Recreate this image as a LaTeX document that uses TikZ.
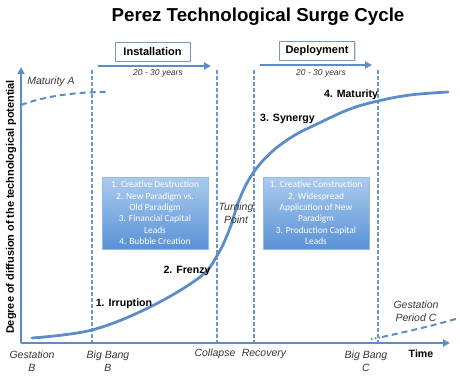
\documentclass[tikz,border=0pt]{standalone}
\usepackage{fontspec}
\setmainfont{Liberation Sans}
\newfontfamily\boxfont{Carlito}
\usetikzlibrary{arrows.meta,shadows}
\definecolor{lblue}{RGB}{92,141,200}
\definecolor{vblue}{RGB}{105,152,208}
\definecolor{boxtop}{RGB}{172,203,238}
\definecolor{boxbot}{RGB}{88,146,214}
\definecolor{boxborder}{RGB}{150,185,228}
\definecolor{phaseborder}{RGB}{125,150,185}
\definecolor{labgray}{RGB}{55,55,55}
\tikzset{
  axisline/.style={draw=lblue, line width=2pt, -{Triangle[length=7pt,width=7pt]}},
  phasearrow/.style={draw=lblue, line width=2pt, -{Triangle[length=7pt,width=7pt]}},
  vdash/.style={draw=vblue, line width=1.4pt, dash pattern=on 4pt off 2pt},
  mainline/.style={draw=lblue, line width=2.8pt, line cap=round},
  softdash/.style={draw=lblue, line width=2pt, dash pattern=on 6pt off 4pt},
  phasebox/.style={draw=phaseborder, line width=0.8pt, fill=white, inner sep=0pt,
    minimum width=75pt, minimum height=19pt,
    font=\fontsize{11}{13}\selectfont\bfseries,
    drop shadow={opacity=0.25, shadow xshift=1pt, shadow yshift=-1pt}},
  bluebox/.style={draw=boxborder, line width=0.6pt, top color=boxtop, bottom color=boxbot,
    text=white, align=center, inner sep=0pt, minimum width=106pt, minimum height=72pt,
    font=\boxfont\fontsize{9.4}{11.4}\selectfont,
    drop shadow={opacity=0.3, shadow xshift=1.2pt, shadow yshift=-1.2pt}},
  stage/.style={font=\fontsize{10.6}{12}\selectfont\bfseries, inner sep=0pt},
  event/.style={font=\fontsize{10.5}{13.5}\selectfont\itshape, text=labgray, align=center, inner sep=0pt},
  years/.style={font=\fontsize{8.5}{10}\selectfont\itshape, text=labgray, inner sep=0pt}
}
\begin{document}
\begin{tikzpicture}[x=1pt,y=-1pt]
\useasboundingbox (0,0) rectangle (460,377);
% title
\node[font=\fontsize{18.7}{22}\selectfont\bfseries] (title) at (258,17) {Perez Technological Surge Cycle};
% phase boxes and arrows
\node[phasebox] (inst) at (152.5,51.5) {Installation};
\node[phasebox] (depl) at (317,51) {Deployment};
\coordinate (ia1) at (98,66); \coordinate (ia2) at (211,66);
\coordinate (da1) at (260,65); \coordinate (da2) at (372,65);
\draw[phasearrow] (ia1) -- (ia2);
\draw[phasearrow] (da1) -- (da2);
\node[years] (iy) at (158,73) {20 - 30 years};
\node[years] (dy) at (321,73) {20 - 30 years};
% vertical dashed lines
\foreach \n/\x in {a/92,b/217,c/254,d/378}{
  \coordinate (v\n t) at (\x,70);
  \coordinate (v\n b) at (\x,343);
  \draw[vdash] (v\n t) -- (v\n b);
}
% Maturity A dashed
\coordinate (ma1) at (21,105); \coordinate (ma2) at (108,92);
\draw[softdash] (ma1) .. controls (45,96) and (75,92) .. (ma2);
\node[event] (matA) at (51,82) {Maturity A};
% Gestation C dashed
\coordinate (gc1) at (371,339); \coordinate (gc2) at (459,318);
\draw[draw=lblue, line width=2pt, dash pattern=on 1.5pt off 2.5pt] (gc1) -- (380,337.5);
\draw[softdash] (382,337) .. controls (405,332) and (432,326) .. (gc2);
% blue boxes
\node[bluebox] (lbox) at (155,213) {1. Creative Destruction\\2. New Paradigm vs.\\Old Paradigm\\3. Financial Capital\\Leads\\4. Bubble Creation};
\node[bluebox] (rbox) at (316,213) {1. Creative Construction\\2. Widespread\\Application of New\\Paradigm\\3. Production Capital\\Leads};
% main curve
\draw[mainline] plot[smooth, tension=0.6] coordinates {
  (32,338) (92,330) (150,307) (200,277) (218,254) (230,228) (238,203)
  (248,181) (260,164) (275,149) (295,135) (317,124) (350,109)
  (378,101) (410,95) (448,92)};
% axes
\coordinate (O) at (21,343);
\coordinate (ytop) at (21,67);
\coordinate (xend) at (450,343);
\draw[axisline] (O) -- (ytop);
\draw[axisline] (O) -- (xend);
% axis label
\node[font=\fontsize{10.9}{12}\selectfont\bfseries, rotate=90] (ylab) at (11,207) {Degree of diffusion of the technological potential};
% stage labels
\node[stage] (s1) at (124,304) {1. Irruption};
\node[stage] (s2) at (187,271) {2. Frenzy};
\node[stage] (s3) at (287.5,119) {3. Synergy};
\node[stage] (s4) at (351,95) {4. Maturity};
\node[event] (turn) at (236,213) {Turning\\Point};
% bottom labels
\node[event] (gB) at (32,361) {Gestation\\B};
\node[event] (bbB) at (108,361) {Big Bang\\B};
\node[event] (col) at (215,354) {Collapse};
\node[event] (rec) at (264,354) {Recovery};
\node[event] (bbC) at (366,361) {Big Bang\\C};
\node[stage] (time) at (421,354) {Time};
\node[event] (gC) at (416,311) {Gestation\\Period C};
\end{tikzpicture}
\end{document}
